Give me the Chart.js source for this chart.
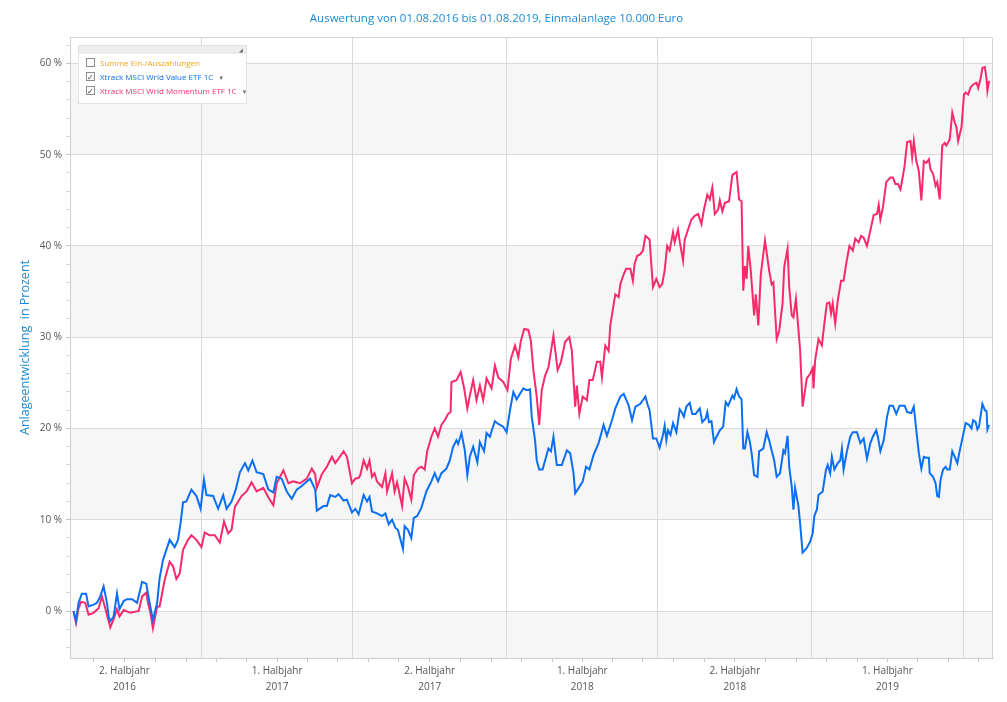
<!DOCTYPE html>
<html lang="de">
<head>
<meta charset="utf-8">
<title>Anlageentwicklung</title>
<script src="https://cdn.jsdelivr.net/npm/chart.js@4.4.0/dist/chart.umd.min.js"></script>
<style>
  html, body { margin: 0; padding: 0; background: #fff; }
  #wrap { position: relative; width: 1007px; height: 702px; }
  #legendBox {
    position: absolute; left: 78px; top: 45px; width: 167px; height: 57px;
    border: 1px solid #e2e2e2; background: #fff;
    font-family: 'Open Sans', sans-serif; font-size: 8px;
  }
  #legendBox .head { height: 8px; background: #ededed; position: relative; }
  #legendBox .head span { position: absolute; right: 3px; top: 1px; font-size: 5px; color: #666; }
  #legendBox .row { position: absolute; left: 7px; height: 10px; line-height: 10px; white-space: nowrap; }
  #legendBox .box {
    display: inline-block; width: 7px; height: 7px; border: 1px solid #8c8c8c;
    vertical-align: middle; margin-right: 5px; position: relative; top: -1px;
    font-size: 8px; line-height: 7px; text-align: center; color: #333;
  }
  #legendBox .drop { color: #777; font-size: 6px; margin-left: 5px; }
</style>
</head>
<body>
<div id="wrap">
  <canvas id="chart" width="1007" height="702"></canvas>
  <div id="legendBox">
    <div class="head"><span>&#9698;</span></div>
    <div class="row" style="top:12px;color:#f5a31a"><span class="box"></span>Summe Ein-/Auszahlungen</div>
    <div class="row" style="top:26px;color:#0b6fe8"><span class="box">&#10003;</span>Xtrack MSCI Wrld Value ETF 1C<span class="drop">&#9660;</span></div>
    <div class="row" style="top:40px;color:#f0306c"><span class="box">&#10003;</span>Xtrack MSCI Wrld Momentum ETF 1C<span class="drop">&#9660;</span></div>
  </div>
</div>
<script>
  // --- Data: [days since 01.08.2016, Entwicklung in %] ---
  const valueSeries = [
    [0,0.0],[3,-1.1],[6,0.9],[10,1.9],[15,1.9],[18,0.5],[24,0.7],[28,0.9],[32,1.6],[36,2.7],[40,0.9],[42,-0.6],[44,-1.1],[48,-0.6],[52,1.9],[55,0.2],[60,1.1],[64,1.3],[70,1.3],[76,0.9],
    [82,3.2],[87,3.0],[91,0.9],[95,-1.0],[100,0.9],[103,3.6],[107,5.6],[115,7.8],[121,7.0],[125,7.8],[128,9.6],[131,11.9],[135,12.0],[141,13.3],[147,12.6],[152,11.2],[156,14.4],[159,12.7],[167,12.6],[173,11.2],
    [179,12.7],[183,11.2],[189,12.0],[194,13.3],[199,15.2],[205,16.2],[209,15.4],[214,16.5],[219,15.2],[227,15.0],[233,13.3],[239,13.0],[243,14.7],[249,14.5],[255,13.1],[261,12.3],[267,13.3],[273,13.7],[279,14.2],[283,14.5],
    [289,13.3],[291,11.0],[299,11.5],[303,11.5],[307,12.7],[313,12.5],[317,12.8],[323,12.1],[327,12.2],[333,10.8],[337,11.2],[341,10.6],[347,12.7],[351,12.0],[354,12.5],[357,10.9],[363,10.7],[369,10.4],[373,10.7],[377,9.5],
    [381,10.0],[385,9.1],[388,8.9],[394,6.8],[396,9.3],[400,8.9],[404,8.0],[407,10.2],[411,10.4],[416,11.3],[422,13.1],[428,14.2],[432,15.1],[436,14.2],[440,15.1],[446,15.6],[450,16.5],[454,18.0],[458,18.7],[460,18.3],
    [464,19.5],[468,17.6],[471,14.9],[474,16.9],[478,18.0],[483,16.3],[486,18.5],[491,17.5],[494,19.5],[498,19.1],[501,20.0],[504,20.8],[508,20.5],[514,20.2],[518,19.6],[522,22.0],[526,24.0],[530,23.2],[534,23.8],[538,24.4],
    [542,24.2],[546,24.3],[548,21.3],[552,18.7],[554,16.5],[557,15.5],[561,15.5],[564,16.5],[568,17.8],[571,17.5],[574,19.1],[578,16.0],[584,16.0],[590,17.6],[594,17.3],[598,15.1],[600,12.9],[605,13.6],[609,14.2],[613,15.8],
    [617,15.5],[622,17.1],[628,18.4],[634,20.4],[638,19.2],[644,20.9],[648,22.2],[654,23.5],[658,23.8],[664,22.5],[668,20.9],[672,22.4],[678,22.7],[684,23.5],[687,22.5],[689,22.0],[693,18.9],[697,18.9],[701,17.9],[705,19.3],
    [707,20.3],[709,18.7],[711,19.8],[714,19.3],[717,20.6],[721,19.6],[725,22.1],[728,21.7],[730,21.3],[733,22.4],[737,22.8],[740,21.6],[744,21.6],[749,22.2],[752,20.7],[756,21.1],[758,21.8],[760,20.7],[763,20.8],[766,18.5],
    [769,19.1],[773,19.8],[777,20.2],[780,22.9],[783,22.5],[788,23.6],[790,23.3],[793,24.3],[796,23.5],[799,23.2],[801,17.8],[803,17.8],[806,19.6],[809,18.5],[811,17.3],[814,14.9],[818,14.7],[820,17.5],[825,17.8],[829,19.6],
    [832,18.7],[835,17.6],[838,16.5],[841,14.7],[845,15.1],[849,17.6],[851,17.3],[854,19.2],[856,15.8],[859,13.6],[861,11.1],[863,13.5],[867,11.5],[869,9.6],[872,6.4],[877,6.9],[881,7.6],[884,8.5],[886,10.4],[889,11.1],
    [891,12.7],[896,13.1],[900,15.5],[902,16.0],[905,15.1],[907,16.9],[910,15.5],[914,16.2],[917,16.5],[919,17.8],[921,15.5],[925,17.5],[929,19.1],[932,19.6],[937,19.6],[941,18.4],[945,18.9],[949,16.7],[953,18.4],[956,19.1],
    [960,19.8],[962,19.1],[965,17.5],[969,18.7],[973,21.3],[976,22.5],[980,22.5],[984,21.6],[988,22.5],[994,22.5],[997,21.8],[1002,21.7],[1005,22.4],[1008,19.8],[1011,17.3],[1014,15.6],[1017,16.9],[1020,16.8],[1023,16.8],[1024,15.1],
    [1028,14.7],[1031,14.0],[1033,12.6],[1035,12.5],[1037,14.4],[1040,15.5],[1043,15.8],[1045,15.5],[1048,15.5],[1051,17.5],[1054,16.9],[1057,16.2],[1060,17.6],[1064,19.3],[1067,20.6],[1071,20.4],[1074,20.0],[1076,20.9],[1079,20.7],[1081,19.9],
    [1083,20.2],[1087,22.7],[1090,22.0],[1092,21.9],[1093,19.9],[1095,20.4]
  ];

  const momentumSeries = [
    [0,0.0],[3,-1.3],[6,0.3],[9,1.0],[14,0.9],[18,-0.4],[24,-0.2],[30,0.3],[34,1.6],[38,0.3],[42,-1.1],[44,-1.8],[48,-0.9],[52,0.2],[55,-0.6],[60,0.1],[68,-0.2],[78,0.0],[82,1.6],[87,2.0],
    [89,0.9],[92,-0.2],[95,-1.9],[100,0.5],[103,0.5],[109,3.4],[115,5.4],[119,4.9],[123,3.5],[127,4.1],[131,6.7],[137,7.8],[141,8.3],[147,7.8],[153,7.0],[157,8.6],[163,8.3],[169,8.3],[175,7.5],[180,9.8],
    [185,8.5],[189,8.9],[193,11.4],[201,12.6],[207,13.1],[213,14.1],[219,13.1],[227,13.5],[234,12.3],[239,11.6],[243,14.0],[251,15.4],[257,14.0],[263,14.2],[271,14.0],[279,14.5],[285,15.6],[289,15.0],[291,13.5],[297,15.0],
    [303,15.8],[309,16.9],[313,16.2],[317,16.7],[323,17.5],[327,16.9],[333,14.0],[337,14.5],[341,14.6],[343,14.9],[347,16.5],[351,15.6],[354,16.5],[357,14.7],[360,15.1],[363,14.2],[369,13.6],[373,15.1],[375,13.1],[381,15.1],
    [384,13.1],[387,14.1],[393,11.5],[396,14.5],[400,13.6],[404,12.2],[407,14.9],[412,15.6],[416,15.8],[420,15.5],[423,17.5],[428,19.1],[432,20.0],[436,19.1],[440,20.4],[444,20.9],[448,21.6],[451,21.8],[452,25.1],[458,25.3],
    [463,26.2],[467,24.5],[471,22.2],[474,23.6],[478,25.3],[482,23.1],[486,24.7],[490,23.1],[494,25.5],[500,24.4],[504,26.9],[508,25.6],[514,25.1],[519,24.2],[523,27.6],[528,29.1],[532,27.8],[535,29.6],[539,30.9],[544,30.8],
    [547,29.6],[550,26.4],[554,23.5],[557,20.4],[560,24.2],[564,25.8],[568,26.7],[574,30.2],[579,26.4],[583,27.3],[588,29.5],[593,30.0],[596,28.5],[600,22.4],[602,24.7],[605,21.6],[609,23.5],[614,23.1],[617,25.3],[621,25.3],
    [626,27.3],[630,27.3],[632,25.6],[636,29.1],[640,28.5],[642,31.3],[646,33.6],[648,34.7],[652,34.4],[654,35.8],[658,36.9],[661,37.5],[666,37.5],[669,36.2],[671,38.0],[674,38.9],[678,39.1],[681,39.5],[684,41.1],[689,40.7],
    [693,35.5],[697,36.4],[701,35.5],[704,35.8],[707,37.3],[710,40.0],[713,39.5],[717,41.5],[719,40.4],[723,41.8],[725,40.5],[729,38.4],[731,40.7],[735,41.8],[739,42.9],[743,43.3],[747,43.5],[751,42.4],[754,44.0],[758,45.6],
    [761,45.1],[764,46.4],[767,43.5],[771,44.0],[773,45.0],[776,43.8],[779,44.7],[784,44.9],[788,47.8],[793,48.1],[796,45.1],[799,44.9],[801,35.1],[803,37.8],[805,36.4],[807,40.0],[810,37.3],[814,32.4],[816,34.7],[819,31.3],
    [822,36.9],[827,40.6],[832,37.3],[835,35.8],[837,36.0],[841,29.8],[844,30.7],[848,33.7],[850,37.7],[854,39.7],[856,35.5],[859,32.4],[861,32.2],[864,34.2],[869,28.6],[872,22.4],[877,25.5],[881,26.0],[884,26.6],[885,24.4],
    [887,27.5],[891,29.8],[895,29.1],[898,31.5],[901,33.7],[904,33.8],[906,32.6],[908,33.7],[911,31.5],[914,34.0],[918,36.2],[921,36.2],[924,38.0],[928,40.0],[932,39.5],[935,40.8],[939,40.4],[942,41.1],[945,40.9],[949,40.0],
    [953,41.7],[957,43.4],[961,43.5],[963,44.5],[965,42.9],[968,44.2],[972,47.0],[977,47.5],[980,47.5],[983,46.8],[986,46.8],[989,46.2],[992,47.7],[994,48.8],[997,51.4],[1001,51.5],[1003,49.7],[1005,51.5],[1008,49.3],[1011,48.2],
    [1014,45.0],[1017,49.3],[1020,49.1],[1023,49.5],[1025,48.4],[1028,47.9],[1031,46.6],[1033,47.0],[1036,45.1],[1039,51.0],[1042,51.3],[1044,51.0],[1048,51.7],[1051,54.6],[1054,53.5],[1056,53.0],[1058,51.5],[1062,53.0],[1065,56.6],[1067,56.8],
    [1070,56.6],[1073,57.4],[1076,57.7],[1080,57.9],[1082,57.3],[1085,58.4],[1087,59.5],[1090,59.6],[1092,58.3],[1093,57.0],[1095,58.1]
  ];

  const seriesNames = ['Xtrack MSCI Wrld Value ETF 1C', 'Xtrack MSCI Wrld Momentum ETF 1C'];
  const seriesColors = ['#0a6ff2', '#f72a6b'];

  // half-year boundaries (x axis) and their label parts
  const halfYearStarts = [[2016, 6], [2017, 0], [2017, 6], [2018, 0], [2018, 6], [2019, 0], [2019, 6], [2020, 0]];
  const halfYearNames = ['1. Halbjahr', '2. Halbjahr'];

  // y axis: shaded bands, tick step
  const shadedBands = [[-10, 0], [10, 20], [30, 40], [50, 60]];
  const yMin = -5.15, yMax = 62.9, yStep = 2, yMajor = 10;
  const xMin = -4.2, xMax = 1099.7;

  const chartTitle = 'Auswertung von 01.08.2016 bis 01.08.2019, Einmalanlage 10.000 Euro';
  const yTitle = 'Anlageentwicklung  in Prozent';

  // --- Helpers ---
  const DAY = 86400000;
  const origin = Date.UTC(2016, 7, 1);
  function dayOf(y, m) { return Math.round((Date.UTC(y, m, 1) - origin) / DAY); }

  // build x ticks: boundaries (grid lines) + 5 minor ticks per half-year, middle one labelled
  const xTickKinds = new Map();
  const xTickLabels = new Map();
  for (let i = 0; i < halfYearStarts.length - 1; i++) {
    const [y0, m0] = halfYearStarts[i];
    const a = dayOf(y0, m0);
    const b = dayOf(halfYearStarts[i + 1][0], halfYearStarts[i + 1][1]);
    xTickKinds.set(a, 'bound');
    [0.1, 0.3, 0.5, 0.7, 0.9].forEach(function (f) {
      const v = a + (b - a) * f;
      xTickKinds.set(v, f === 0.5 ? 'label' : 'minor');
      if (f === 0.5) xTickLabels.set(v, [halfYearNames[m0 === 0 ? 0 : 1], String(y0)]);
    });
  }
  const xTickValues = Array.from(xTickKinds.keys())
    .filter(function (v) { return v >= xMin && v <= xMax; })
    .sort(function (p, q) { return p - q; });

  const yTickValues = [];
  for (let v = Math.ceil(yMin / yStep) * yStep; v <= yMax; v += yStep) yTickValues.push(v);

  // --- Background bands + frame ---
  const bandPlugin = {
    id: 'bands',
    beforeDraw: function (chart) {
      const ctx = chart.ctx, a = chart.chartArea, y = chart.scales.y;
      ctx.save();
      ctx.fillStyle = '#ffffff';
      ctx.fillRect(0, 0, chart.width, chart.height);
      ctx.fillStyle = '#f6f6f6';
      shadedBands.forEach(function (band) {
        const top = y.getPixelForValue(Math.min(band[1], y.max));
        const bot = y.getPixelForValue(Math.max(band[0], y.min));
        if (bot > top) ctx.fillRect(a.left, top, a.right - a.left, bot - top);
      });
      ctx.restore();
    },
    afterDraw: function (chart) {
      const ctx = chart.ctx, a = chart.chartArea;
      ctx.save();
      ctx.strokeStyle = '#d4d4d4';
      ctx.lineWidth = 1;
      ctx.beginPath();
      ctx.moveTo(a.left, a.top + 0.5);
      ctx.lineTo(a.right - 0.5, a.top + 0.5);
      ctx.lineTo(a.right - 0.5, a.bottom);
      ctx.stroke();
      ctx.restore();
    }
  };

  const tickFont = { family: "'Open Sans', sans-serif", size: 10 };

  new Chart(document.getElementById('chart'), {
    type: 'line',
    data: {
      datasets: [valueSeries, momentumSeries].map(function (s, i) {
        return {
          label: seriesNames[i],
          data: s.map(function (p) { return { x: p[0], y: p[1] }; }),
          borderColor: seriesColors[i],
          backgroundColor: seriesColors[i],
          borderWidth: 2,
          pointRadius: 0,
          tension: 0,
          fill: false
        };
      })
    },
    options: {
      responsive: false,
      animation: false,
      layout: { padding: { top: 0, right: 14, bottom: 0, left: 0 } },
      plugins: {
        legend: { display: false },
        tooltip: { enabled: false },
        title: {
          display: true,
          text: chartTitle,
          color: '#1b8ad3',
          font: { family: "'Open Sans', sans-serif", size: 11.5, weight: 'normal' },
          padding: { top: 12, bottom: 11.2 }
        }
      },
      scales: {
        x: {
          type: 'linear',
          min: xMin,
          max: xMax,
          afterBuildTicks: function (scale) {
            scale.ticks = xTickValues.map(function (v) { return { value: v }; });
          },
          afterFit: function (scale) { scale.height = 44; },
          grid: {
            color: function (c) { return xTickKinds.get(c.tick && c.tick.value) === 'bound' ? '#dadada' : 'rgba(0,0,0,0)'; },
            tickColor: function (c) { return xTickKinds.get(c.tick && c.tick.value) === 'bound' ? 'rgba(0,0,0,0)' : '#c6c6c6'; },
            tickLength: 4
          },
          border: { color: '#cfcfcf' },
          ticks: {
            autoSkip: false,
            maxRotation: 0,
            minRotation: 0,
            padding: 1,
            color: '#555',
            font: Object.assign({ lineHeight: 1.6 }, tickFont),
            callback: function (v) { return xTickLabels.get(v) || ''; }
          }
        },
        y: {
          type: 'linear',
          min: yMin,
          max: yMax,
          afterBuildTicks: function (scale) {
            scale.ticks = yTickValues.map(function (v) { return { value: v }; });
          },
          afterFit: function (scale) { scale.width = 70; },
          grid: {
            color: function (c) { return c.tick && c.tick.value % yMajor === 0 ? '#dadada' : 'rgba(0,0,0,0)'; },
            tickColor: function (c) { return c.tick && c.tick.value % yMajor === 0 ? '#c4c4c4' : '#dadada'; },
            tickLength: 4
          },
          border: { color: '#cfcfcf' },
          title: {
            display: true,
            text: yTitle,
            color: '#1b8ad3',
            font: { family: "'Open Sans', sans-serif", size: 12.5 },
            padding: { top: 18, bottom: 0 }
          },
          ticks: {
            autoSkip: false,
            padding: 4,
            color: '#555',
            font: tickFont,
            callback: function (v) { return v % yMajor === 0 ? v + ' %' : ''; }
          }
        }
      }
    },
    plugins: [bandPlugin]
  });
</script>
</body>
</html>
